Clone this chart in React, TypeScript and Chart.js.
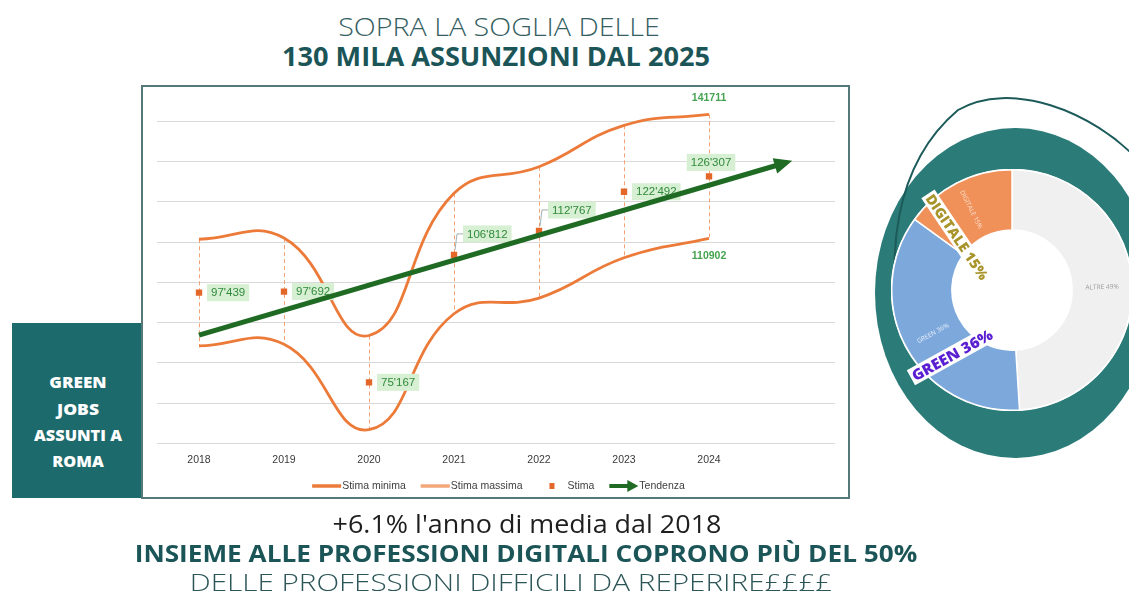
import React, { useEffect, useLayoutEffect, useRef } from "react";
import { Chart, registerables } from "chart.js";

Chart.register(...registerables);

// ---------- data ----------
const years = [2018, 2019, 2020, 2021, 2022, 2023, 2024];
const stimaMinima = [84200, 84600, 63400, 92200, 96100, 106100, 110902];
const stimaMassima = [110700, 111000, 86800, 122100, 128700, 139000, 141711];
const stima = [97439, 97692, 75167, 106812, 112767, 122492, 126307];
const stimaText = ["97'439", "97'692", "75'167", "106'812", "112'767", "122'492", "126'307"];
const stimaLabelPlacement = ["right", "right", "right", "leader", "leader", "right", "above"];
const trendYears = [2018, 2024.9];
const trendValues = [86900, 129700];
const yGridValues = [60000, 70000, 80000, 90000, 100000, 110000, 120000, 130000, 140000];
const legendLabels = ["Stima minima", "Stima massima", "Stima", "Tendenza"];

const donutLabels = ["ALTRE 49%", "GREEN 36%", "DIGITALE 15%"];
const donutValues = [49, 36, 15];

const boxLines = ["GREEN", "JOBS", "ASSUNTI A", "ROMA"];

// ---------- styles ----------
const ORANGE = "#EC7B3A";
const MARKER = "#E4672A";
const TREND = "#1F6B24";
const LABEL_TXT = "#2F8A3B";
const LABEL_BG = "#D7EFD2";
const TEAL = "#1D6A6C";
const FONT = '"Open Sans", "Noto Sans", sans-serif';
const SMALL = '"Liberation Sans", Arial, sans-serif';

const dropLinesPlugin = {
  id: "dropLines",
  beforeDatasetsDraw(chart: any) {
    const { ctx, scales } = chart;
    const x = scales.x, y = scales.y;
    ctx.save();
    ctx.strokeStyle = "#F2A274";
    ctx.lineWidth = 1;
    ctx.setLineDash([4, 3]);
    years.forEach((yr, i) => {
      const px = Math.round(x.getPixelForValue(yr)) + 0.5;
      ctx.beginPath();
      ctx.moveTo(px, y.getPixelForValue(stimaMassima[i]));
      ctx.lineTo(px, y.getPixelForValue(stimaMinima[i]));
      ctx.stroke();
    });
    ctx.restore();
  },
};

const labelsPlugin = {
  id: "stimaLabels",
  afterDatasetDraw(chart: any, args: any) {
    if (args.index !== 2) return;
    const { ctx } = chart;
    const meta = chart.getDatasetMeta(2);
    ctx.save();
    ctx.font = `11.5px ${SMALL}`;
    ctx.textBaseline = "middle";
    meta.data.forEach((pt: any, i: number) => {
      const px = pt.x, py = pt.y;
      const txt = stimaText[i];
      const tw = ctx.measureText(txt).width;
      const bw = tw + 8, bh = 17;
      const mode = stimaLabelPlacement[i];
      let bx = px + 8, by = py;
      if (mode === "leader") {
        bx = px + 9;
        by = py - 21;
        ctx.strokeStyle = "#8a9a9a";
        ctx.lineWidth = 0.8;
        ctx.beginPath();
        ctx.moveTo(px + 1, py - 5);
        ctx.lineTo(px + 3, by);
        ctx.lineTo(bx, by);
        ctx.stroke();
      } else if (mode === "above") {
        bx = px - bw / 2 + 2;
        by = py - 14;
      }
      ctx.fillStyle = LABEL_BG;
      ctx.fillRect(bx, by - bh / 2, bw, bh);
      ctx.fillStyle = LABEL_TXT;
      ctx.textAlign = "left";
      ctx.fillText(txt, bx + 4, by + 0.5);
    });
    const y = chart.scales.y, x = chart.scales.x;
    const last = years.length - 1;
    const lx = x.getPixelForValue(years[last]);
    ctx.font = `bold 10.5px ${SMALL}`;
    ctx.fillStyle = "#45A350";
    ctx.textAlign = "center";
    ctx.fillText(String(stimaMassima[last]), lx, y.getPixelForValue(stimaMassima[last]) - 16);
    ctx.fillText(String(stimaMinima[last]), lx, y.getPixelForValue(stimaMinima[last]) + 18);
    ctx.restore();
  },
};

const arrowPlugin = {
  id: "trendArrow",
  afterDatasetDraw(chart: any, args: any) {
    if (args.index !== 3) return;
    const { ctx } = chart;
    const meta = chart.getDatasetMeta(3);
    const p0 = meta.data[0], p1 = meta.data[meta.data.length - 1];
    const ang = Math.atan2(p1.y - p0.y, p1.x - p0.x);
    ctx.save();
    ctx.translate(p1.x, p1.y);
    ctx.rotate(ang);
    ctx.fillStyle = TREND;
    ctx.beginPath();
    ctx.moveTo(7, 0);
    ctx.lineTo(-11, -8);
    ctx.lineTo(-11, 8);
    ctx.closePath();
    ctx.fill();
    ctx.restore();
  },
};

const legendPlugin = {
  id: "customLegend",
  afterDraw(chart: any) {
    const { ctx, width } = chart;
    const cy = 399;
    const slot = 29, tgap = 1, igap = 15;
    ctx.save();
    ctx.font = `10.5px ${SMALL}`;
    const widths = legendLabels.map((t) => slot + tgap + ctx.measureText(t).width);
    const total = widths.reduce((a, b) => a + b, 0) + igap * (legendLabels.length - 1);
    let x = width / 2 + 3 - total / 2;
    legendLabels.forEach((t, i) => {
      if (i === 0) {
        ctx.strokeStyle = ORANGE;
        ctx.lineWidth = 3.5;
        ctx.beginPath(); ctx.moveTo(x, cy); ctx.lineTo(x + slot, cy); ctx.stroke();
      } else if (i === 1) {
        ctx.strokeStyle = ORANGE;
        ctx.lineWidth = 3;
        ctx.beginPath(); ctx.moveTo(x, cy); ctx.lineTo(x + slot, cy); ctx.stroke();
        ctx.strokeStyle = "#FBD3BA";
        ctx.lineWidth = 1;
        ctx.beginPath(); ctx.moveTo(x, cy); ctx.lineTo(x + slot, cy); ctx.stroke();
      } else if (i === 2) {
        ctx.fillStyle = MARKER;
        ctx.fillRect(x + slot / 2 - 2.5, cy - 3, 5, 6);
      } else {
        ctx.strokeStyle = TREND;
        ctx.lineWidth = 4;
        ctx.beginPath(); ctx.moveTo(x, cy); ctx.lineTo(x + slot - 10, cy); ctx.stroke();
        ctx.fillStyle = TREND;
        ctx.beginPath();
        ctx.moveTo(x + slot, cy); ctx.lineTo(x + slot - 11, cy - 6); ctx.lineTo(x + slot - 11, cy + 6);
        ctx.closePath(); ctx.fill();
      }
      ctx.fillStyle = "#404040";
      ctx.textBaseline = "middle";
      ctx.textAlign = "left";
      ctx.fillText(t, x + slot + tgap, cy + 0.5);
      x += widths[i] + igap;
    });
    ctx.restore();
  },
};

const donutTextPlugin = {
  id: "donutText",
  beforeDatasetsDraw(chart: any) {
    const { ctx } = chart;
    const arc = chart.getDatasetMeta(0).data[0];
    if (!arc) return;
    const p = arc.getProps(["x", "y", "outerRadius"], true);
    ctx.save();
    ctx.fillStyle = "#FFFFFF";
    ctx.beginPath();
    ctx.arc(p.x, p.y, p.outerRadius + 1, 0, Math.PI * 2);
    ctx.fill();
    ctx.restore();
  },
  afterDatasetsDraw(chart: any) {
    const { ctx } = chart;
    const meta = chart.getDatasetMeta(0);
    const colors = ["#9a9a9a", "#E3ECF8", "#FCDCC8"];
    ctx.save();
    ctx.font = `6.5px ${FONT}`;
    ctx.textAlign = "center";
    ctx.textBaseline = "middle";
    meta.data.forEach((arc: any, i: number) => {
      const p = arc.getProps(["x", "y", "startAngle", "endAngle", "innerRadius", "outerRadius"], true);
      const mid = (p.startAngle + p.endAngle) / 2;
      const r = (p.innerRadius + p.outerRadius) / 2;
      const tx = p.x + Math.cos(mid) * r;
      const ty = p.y + Math.sin(mid) * r;
      let rot = mid;
      if (Math.cos(rot) < 0) rot += Math.PI;
      ctx.save();
      ctx.translate(tx, ty);
      ctx.rotate(rot);
      ctx.fillStyle = colors[i];
      ctx.fillText(donutLabels[i], 0, 0);
      ctx.restore();
    });
    ctx.restore();
  },
};

const abs = (extra: React.CSSProperties): React.CSSProperties => ({
  position: "absolute",
  whiteSpace: "nowrap",
  ...extra,
});

const centered = (cx: number, cy: number, extra: React.CSSProperties): React.CSSProperties =>
  abs({ left: cx, top: cy, transform: "translate(-50%, -50%)", lineHeight: 1, ...extra });

function FitText(props: { cx: number; cy: number; width: number; rotate?: number; style: React.CSSProperties; children: any }) {
  const ref = useRef<HTMLDivElement>(null);
  useLayoutEffect(() => {
    const el = ref.current;
    if (!el) return;
    const w = el.offsetWidth;
    const s = w > 0 ? props.width / w : 1;
    el.style.transform = `translate(-50%, -50%) rotate(${props.rotate || 0}deg) scaleX(${s})`;
  }, []);
  return (
    <div ref={ref} style={centered(props.cx, props.cy, props.style)}>
      {props.children}
    </div>
  );
}

export default function App() {
  const lineRef = useRef<HTMLCanvasElement>(null);
  const donutRef = useRef<HTMLCanvasElement>(null);

  useEffect(() => {
    const line = new Chart(lineRef.current as HTMLCanvasElement, {
      type: "line",
      data: {
        datasets: [
          {
            label: legendLabels[0],
            data: years.map((x, i) => ({ x, y: stimaMinima[i] })),
            borderColor: ORANGE,
            borderWidth: 2.8,
            pointRadius: 0,
            tension: 0.45,
            order: 4,
          },
          {
            label: legendLabels[1],
            data: years.map((x, i) => ({ x, y: stimaMassima[i] })),
            borderColor: ORANGE,
            borderWidth: 2.8,
            pointRadius: 0,
            tension: 0.45,
            order: 3,
          },
          {
            label: legendLabels[2],
            data: years.map((x, i) => ({ x, y: stima[i] })),
            showLine: false,
            pointStyle: "rect",
            pointRadius: 4.5,
            pointBackgroundColor: MARKER,
            pointBorderWidth: 0,
            borderColor: MARKER,
            order: 2,
          },
          {
            label: legendLabels[3],
            data: trendYears.map((x, i) => ({ x, y: trendValues[i] })),
            borderColor: TREND,
            borderWidth: 5,
            pointRadius: 0,
            tension: 0,
            order: 1,
          },
        ],
      } as any,
      options: {
        animation: false,
        responsive: false,
        devicePixelRatio: 1,
        layout: { padding: { left: 14, right: 13, top: 2, bottom: 21 } },
        plugins: { legend: { display: false }, tooltip: { enabled: false } },
        scales: {
          x: {
            type: "linear",
            min: 2017.506,
            max: 2025.482,
            afterBuildTicks: (s: any) => {
              s.ticks = years.map((v) => ({ value: v }));
            },
            ticks: {
              autoSkip: false,
              maxRotation: 0,
              padding: 10,
              color: "#3A3A3A",
              font: { family: SMALL, size: 10.5 },
              callback: (v: any) => String(v),
            },
            grid: { display: false, drawTicks: false },
            border: { display: false },
          },
          y: {
            type: "linear",
            min: 60000,
            max: 147400,
            afterBuildTicks: (s: any) => {
              s.ticks = yGridValues.map((v) => ({ value: v }));
            },
            ticks: { display: false },
            grid: { color: "#D9D9D9", lineWidth: 1, drawTicks: false },
            border: { display: false },
          },
        },
      } as any,
      plugins: [dropLinesPlugin, labelsPlugin, arrowPlugin, legendPlugin],
    });

    const donut = new Chart(donutRef.current as HTMLCanvasElement, {
      type: "doughnut",
      data: {
        labels: donutLabels,
        datasets: [
          {
            data: donutValues,
            backgroundColor: ["#F0F0F0", "#7DA8DC", "#F0915A"],
            borderColor: "#FFFFFF",
            borderWidth: 1.5,
          },
        ],
      },
      options: {
        animation: false,
        responsive: false,
        devicePixelRatio: 1,
        cutout: "50%",
        plugins: { legend: { display: false }, tooltip: { enabled: false } },
      } as any,
      plugins: [donutTextPlugin],
    });

    return () => {
      line.destroy();
      donut.destroy();
    };
  }, []);

  return (
    <div
      style={{
        position: "absolute",
        left: 0,
        top: 0,
        width: 1129,
        height: 595,
        overflow: "hidden",
        background: "#FFFFFF",
        fontFamily: FONT,
      }}
    >
      {/* titles */}
      <FitText cx={499} cy={26} width={322} style={{ fontSize: 26, fontWeight: 300, color: "#35605F" }}>
        SOPRA LA SOGLIA DELLE
      </FitText>
      <FitText cx={496} cy={55} width={428} style={{ fontSize: 27, fontWeight: 700, color: "#1B5557" }}>
        130 MILA ASSUNZIONI DAL 2025
      </FitText>

      {/* left teal box */}
      <div style={abs({ left: 12, top: 323, width: 130, height: 175, background: TEAL })} />
      {boxLines.map((t, i) => (
        <FitText
          key={t}
          cx={78}
          cy={[382, 408.5, 435, 460.5][i]}
          width={[57, 42, 88, 52][i]}
          style={{ color: "#FFFFFF", fontWeight: 800, fontSize: 15 }}
        >
          {t}
        </FitText>
      ))}

      {/* chart frame */}
      <div
        style={abs({
          left: 141,
          top: 85,
          width: 709,
          height: 414,
          boxSizing: "border-box",
          border: "2px solid #557879",
          background: "#FFFFFF",
        })}
      >
        <canvas ref={lineRef} width={705} height={410} style={{ display: "block", width: 705, height: 410 }} />
      </div>

      {/* decorative teal blob behind donut */}
      <svg width={1129} height={595} style={abs({ left: 0, top: 0 })}>
        <ellipse cx={1015} cy={293} rx={140} ry={165} fill="#2B7B78" />
        <path
          d="M 905 335 C 884 262, 893 165, 958 110 C 1010 80, 1092 110, 1140 162"
          fill="none"
          stroke="#1C5B5A"
          strokeWidth={2}
        />
      </svg>

      {/* donut */}
      <canvas
        ref={donutRef}
        width={242}
        height={242}
        style={abs({ left: 891, top: 169, width: 242, height: 242 })}
      />

      {/* big donut annotations */}
      <FitText
        cx={957}
        cy={237}
        width={104}
        rotate={56}
        style={{ background: "#FFFFFF", color: "#A8942A", fontWeight: 800, fontSize: 14, lineHeight: "16px", padding: "0 2px" }}
      >
        DIGITALE 15%
      </FitText>
      <FitText
        cx={952}
        cy={355}
        width={94}
        rotate={-29}
        style={{ background: "#FFFFFF", color: "#5B1FD2", fontWeight: 800, fontSize: 15, lineHeight: "17px", padding: "0 2px" }}
      >
        GREEN 36%
      </FitText>

      {/* bottom texts */}
      <FitText cx={527} cy={523} width={389} style={{ fontSize: 25, fontWeight: 400, color: "#1E1E1E" }}>
        +6.1% l'anno di media dal 2018
      </FitText>
      <FitText cx={526} cy={553} width={782} style={{ fontSize: 24, fontWeight: 700, color: "#1B5557" }}>
        INSIEME ALLE PROFESSIONI DIGITALI COPRONO PIÙ DEL 50%
      </FitText>
      <FitText cx={511} cy={582} width={642} style={{ fontSize: 23, fontWeight: 300, color: "#2C5557" }}>
        DELLE PROFESSIONI DIFFICILI DA REPERIRE££££
      </FitText>
    </div>
  );
}
